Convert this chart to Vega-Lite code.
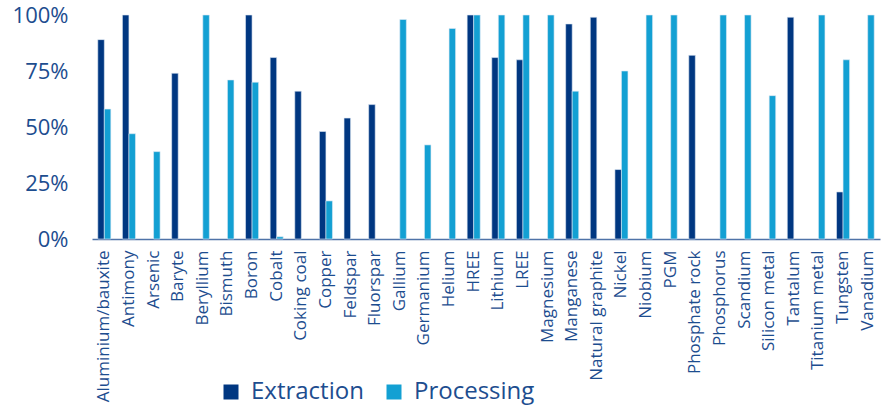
{
  "$schema": "https://vega.github.io/schema/vega-lite/v6.json",
  "width": 788,
  "height": 224,
  "autosize": {"type": "none"},
  "padding": {"left": 92, "top": 15, "right": 5, "bottom": 166},
  "background": "white",
  "config": {
    "view": {"stroke": null},
    "font": "Open Sans"
  },
  "data": {
    "values": [
      {"material": "Aluminium/bauxite", "stage": "Extraction", "share": 0.89},
      {"material": "Aluminium/bauxite", "stage": "Processing", "share": 0.58},
      {"material": "Antimony", "stage": "Extraction", "share": 1.0},
      {"material": "Antimony", "stage": "Processing", "share": 0.47},
      {"material": "Arsenic", "stage": "Extraction", "share": 0},
      {"material": "Arsenic", "stage": "Processing", "share": 0.39},
      {"material": "Baryte", "stage": "Extraction", "share": 0.74},
      {"material": "Baryte", "stage": "Processing", "share": 0},
      {"material": "Beryllium", "stage": "Extraction", "share": 0},
      {"material": "Beryllium", "stage": "Processing", "share": 1.0},
      {"material": "Bismuth", "stage": "Extraction", "share": 0},
      {"material": "Bismuth", "stage": "Processing", "share": 0.71},
      {"material": "Boron", "stage": "Extraction", "share": 1.0},
      {"material": "Boron", "stage": "Processing", "share": 0.70},
      {"material": "Cobalt", "stage": "Extraction", "share": 0.81},
      {"material": "Cobalt", "stage": "Processing", "share": 0.01},
      {"material": "Coking coal", "stage": "Extraction", "share": 0.66},
      {"material": "Coking coal", "stage": "Processing", "share": 0},
      {"material": "Copper", "stage": "Extraction", "share": 0.48},
      {"material": "Copper", "stage": "Processing", "share": 0.17},
      {"material": "Feldspar", "stage": "Extraction", "share": 0.54},
      {"material": "Feldspar", "stage": "Processing", "share": 0},
      {"material": "Fluorspar", "stage": "Extraction", "share": 0.60},
      {"material": "Fluorspar", "stage": "Processing", "share": 0},
      {"material": "Gallium", "stage": "Extraction", "share": 0},
      {"material": "Gallium", "stage": "Processing", "share": 0.98},
      {"material": "Germanium", "stage": "Extraction", "share": 0},
      {"material": "Germanium", "stage": "Processing", "share": 0.42},
      {"material": "Helium", "stage": "Extraction", "share": 0},
      {"material": "Helium", "stage": "Processing", "share": 0.94},
      {"material": "HREE", "stage": "Extraction", "share": 1.0},
      {"material": "HREE", "stage": "Processing", "share": 1.0},
      {"material": "Lithium", "stage": "Extraction", "share": 0.81},
      {"material": "Lithium", "stage": "Processing", "share": 1.0},
      {"material": "LREE", "stage": "Extraction", "share": 0.80},
      {"material": "LREE", "stage": "Processing", "share": 1.0},
      {"material": "Magnesium", "stage": "Extraction", "share": 0},
      {"material": "Magnesium", "stage": "Processing", "share": 1.0},
      {"material": "Manganese", "stage": "Extraction", "share": 0.96},
      {"material": "Manganese", "stage": "Processing", "share": 0.66},
      {"material": "Natural graphite", "stage": "Extraction", "share": 0.99},
      {"material": "Natural graphite", "stage": "Processing", "share": 0},
      {"material": "Nickel", "stage": "Extraction", "share": 0.31},
      {"material": "Nickel", "stage": "Processing", "share": 0.75},
      {"material": "Niobium", "stage": "Extraction", "share": 0},
      {"material": "Niobium", "stage": "Processing", "share": 1.0},
      {"material": "PGM", "stage": "Extraction", "share": 0},
      {"material": "PGM", "stage": "Processing", "share": 1.0},
      {"material": "Phosphate rock", "stage": "Extraction", "share": 0.82},
      {"material": "Phosphate rock", "stage": "Processing", "share": 0},
      {"material": "Phosphorus", "stage": "Extraction", "share": 0},
      {"material": "Phosphorus", "stage": "Processing", "share": 1.0},
      {"material": "Scandium", "stage": "Extraction", "share": 0},
      {"material": "Scandium", "stage": "Processing", "share": 1.0},
      {"material": "Silicon metal", "stage": "Extraction", "share": 0},
      {"material": "Silicon metal", "stage": "Processing", "share": 0.64},
      {"material": "Tantalum", "stage": "Extraction", "share": 0.99},
      {"material": "Tantalum", "stage": "Processing", "share": 0},
      {"material": "Titanium metal", "stage": "Extraction", "share": 0},
      {"material": "Titanium metal", "stage": "Processing", "share": 1.0},
      {"material": "Tungsten", "stage": "Extraction", "share": 0.21},
      {"material": "Tungsten", "stage": "Processing", "share": 0.80},
      {"material": "Vanadium", "stage": "Extraction", "share": 0},
      {"material": "Vanadium", "stage": "Processing", "share": 1.0}
    ]
  },
  "mark": {"type": "bar", "stroke": "#dfe9f5", "strokeWidth": 0.6},
  "encoding": {
    "x": {
      "field": "material",
      "type": "nominal",
      "sort": null,
      "scale": {"paddingInner": 0.47, "paddingOuter": 0.235},
      "axis": {
        "title": null,
        "labelAngle": -90,
        "labelFontSize": 17,
        "labelColor": "#1d4d8f",
        "labelPadding": 11,
        "ticks": false,
        "domainColor": "#4f73a8",
        "domainWidth": 1.5
      }
    },
    "xOffset": {"field": "stage", "type": "nominal"},
    "y": {
      "field": "share",
      "type": "quantitative",
      "scale": {"domain": [0, 1]},
      "axis": {
        "title": null,
        "format": ".0%",
        "values": [0, 0.25, 0.5, 0.75, 1],
        "labelFontSize": 22,
        "labelColor": "#1d4d8f",
        "labelPadding": 24,
        "ticks": false,
        "domain": false,
        "grid": false
      }
    },
    "strokeOpacity": {
      "condition": {"test": "datum.share > 0", "value": 1},
      "value": 0
    },
    "color": {
      "field": "stage",
      "type": "nominal",
      "scale": {"domain": ["Extraction", "Processing"], "range": ["#003781", "#13a0d3"]},
      "legend": {
        "title": null,
        "orient": "none",
        "direction": "horizontal",
        "legendX": 127,
        "legendY": 365,
        "symbolType": "square",
        "symbolSize": 225,
        "symbolStrokeWidth": 0,
        "labelFontSize": 24,
        "labelColor": "#1d4d8f",
        "columnPadding": 18,
        "labelOffset": 8
      }
    }
  }
}
